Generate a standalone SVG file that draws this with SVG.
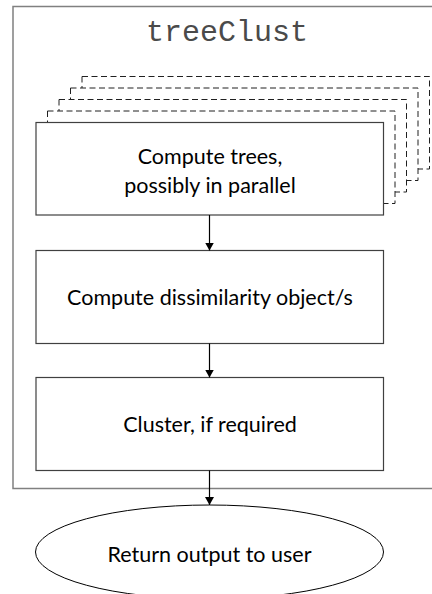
<svg xmlns="http://www.w3.org/2000/svg" width="432" height="594" viewBox="0 0 432 594">
  <style>
    .frame { fill: #ffffff; stroke: #808080; stroke-width: 1.5; }
    .box { fill: #ffffff; stroke: #404040; stroke-width: 1.2; }
    .ghost { fill: #ffffff; stroke: #202020; stroke-width: 1; stroke-dasharray: 6 3.5; }
    .label { font-family: Lato, "Open Sans", "Liberation Sans", sans-serif; font-size: 21.5px; fill: #000000; text-anchor: middle; }
    .title { font-family: "Liberation Mono", "DejaVu Sans Mono", monospace; font-size: 30px; fill: #4a4a4a; text-anchor: middle; }
    .edge { stroke: #000000; stroke-width: 1.2; fill: none; marker-end: url(#arrow); }
  </style>
  <defs>
    <marker id="arrow" viewBox="0 0 8 9" refX="8" refY="4.5" markerWidth="8" markerHeight="9" markerUnits="userSpaceOnUse" orient="auto">
      <path d="M0,0 L8,4.5 L0,9 z" fill="#000000"/>
    </marker>
  </defs>

  <!-- enclosing treeClust frame -->
  <g id="treeClust">
    <rect class="frame" x="13" y="6.5" width="430" height="482"/>
    <text class="title" x="227" y="40.5">treeClust</text>
  </g>

  <!-- stacked copies of the tree step, back to front -->
  <g id="tree-copies">
    <rect class="ghost" x="82" y="76.5" width="347.5" height="92.5"/>
    <rect class="ghost" x="70.5" y="88" width="347.5" height="92.5"/>
    <rect class="ghost" x="59" y="99.5" width="347.5" height="92.5"/>
    <rect class="ghost" x="47.5" y="111" width="347.5" height="92.5"/>
  </g>

  <g id="compute-trees">
    <rect class="box" x="36" y="122.5" width="347.5" height="92.5"/>
    <text class="label" x="210" y="164">Compute trees,</text>
    <text class="label" x="210" y="193">possibly in parallel</text>
  </g>

  <g id="dissimilarity">
    <rect class="box" x="36" y="250.5" width="347.5" height="93"/>
    <text class="label" x="210" y="305">Compute dissimilarity object/s</text>
  </g>

  <g id="cluster">
    <rect class="box" x="36" y="377.5" width="347.5" height="93"/>
    <text class="label" x="210" y="432">Cluster, if required</text>
  </g>

  <g id="return-output">
    <ellipse cx="209.5" cy="552" rx="174" ry="47" fill="#ffffff" stroke="#000000" stroke-width="1"/>
    <text class="label" x="209.5" y="562">Return output to user</text>
  </g>

  <g id="connectors">
    <line class="edge" x1="209.5" y1="215" x2="209.5" y2="250.5"/>
    <line class="edge" x1="209.5" y1="343.5" x2="209.5" y2="377.5"/>
    <line class="edge" x1="209.5" y1="470.5" x2="209.5" y2="505"/>
  </g>
</svg>
